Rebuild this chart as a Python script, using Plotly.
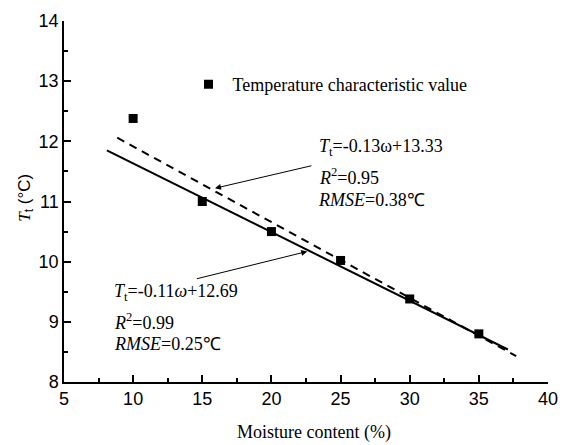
import plotly.graph_objects as go

# Measured data
moisture = [10, 15, 20, 25, 30, 35]
temp_char = [12.38, 11.0, 10.5, 10.02, 9.38, 8.8]

# Fit line endpoints
fit1_x = [8.1, 37.1]      # solid: Tt=-0.11w+12.69
fit1_y = [11.85, 8.54]
fit2_x = [8.85, 37.7]     # dashed: Tt=-0.13w+13.33
fit2_y = [12.06, 8.43]

SERIF = "Liberation Serif, Times New Roman, serif"
SANS = "Liberation Sans, Arial, sans-serif"

fig = go.Figure()
fig.add_trace(go.Scatter(x=fit1_x, y=fit1_y, mode="lines",
                         line=dict(color="black", width=2), showlegend=False))
fig.add_trace(go.Scatter(x=fit2_x, y=fit2_y, mode="lines",
                         line=dict(color="black", width=2, dash="8px,6px"), showlegend=False))
fig.add_trace(go.Scatter(x=moisture, y=temp_char, mode="markers",
                         marker=dict(symbol="square", size=9, color="black"),
                         name="Temperature characteristic value"))

axis_common = dict(showline=True, linecolor="black", linewidth=1.5, ticks="inside",
                   ticklen=7, tickwidth=1.5, tickcolor="black", showgrid=False,
                   zeroline=False, mirror=False,
                   tickfont=dict(family=SANS, size=18, color="black"))
fig.update_xaxes(range=[5, 40], dtick=5, tick0=5,
                 minor=dict(ticks="inside", ticklen=4, dtick=2.5, tick0=5, tickcolor="black", tickwidth=1.5, showgrid=False),
                 **axis_common)
fig.update_yaxes(range=[8, 14], dtick=1, tick0=8,
                 minor=dict(ticks="inside", ticklen=4, dtick=0.5, tick0=8, tickcolor="black", tickwidth=1.5, showgrid=False),
                 **axis_common)

ann = []
fsz = 18
def txt(x, y, t):
    ann.append(dict(x=x, y=y, xref="x", yref="y", text=t, showarrow=False,
                    xanchor="left", yanchor="middle",
                    font=dict(family=SERIF, size=fsz, color="black")))

txt(23.3, 11.90, "<i>T</i><sub>t</sub>=-0.13ω+13.33")
txt(23.3, 11.42, "<i>R</i><sup>2</sup>=0.95")
txt(23.2, 11.03, "<i>RMSE</i>=0.38℃")
txt(8.45, 9.48, "<i>T</i><sub>t</sub>=-0.11<i>ω</i>+12.69")
txt(8.45, 9.0, "<i>R</i><sup>2</sup>=0.99")
txt(8.45, 8.625, "<i>RMSE</i>=0.25℃")

# arrows
ann.append(dict(x=15.92, y=11.22, ax=23.0, ay=11.60, xref="x", yref="y", axref="x", ayref="y",
                text="", showarrow=True, arrowhead=2, arrowsize=1.2, arrowwidth=1, arrowcolor="black"))
ann.append(dict(x=22.59, y=10.17, ax=14.5, ay=9.71, xref="x", yref="y", axref="x", ayref="y",
                text="", showarrow=True, arrowhead=2, arrowsize=1.2, arrowwidth=1, arrowcolor="black"))

# axis titles
ann.append(dict(x=-0.079, y=0.51, xref="paper", yref="paper", showarrow=False, textangle=-90,
                xanchor="center", yanchor="middle",
                text="<i><span style=\"font-family:Liberation Serif\">T</span></i><sub>t</sub> (°C)",
                font=dict(family=SANS, size=17, color="black")))
ann.append(dict(x=0.516, y=-0.14, xref="paper", yref="paper", showarrow=False,
                xanchor="center", yanchor="middle",
                text="Moisture content (%)", font=dict(family=SERIF, size=18, color="black")))

fig.update_layout(width=569, height=445, margin=dict(l=64, r=11, t=17, b=63),
                  paper_bgcolor="white", plot_bgcolor="white", annotations=ann,
                  legend=dict(x=0.249, y=0.824, xanchor="left", yanchor="middle",
                              itemwidth=38,
                              bgcolor="rgba(0,0,0,0)", font=dict(family=SERIF, size=18, color="black")))
# remove the browser's default 8px body margin so the figure fills the window exactly
fig.write_html("out.html", config={"displayModeBar": False},
               post_script="document.body.style.margin='0px';")
